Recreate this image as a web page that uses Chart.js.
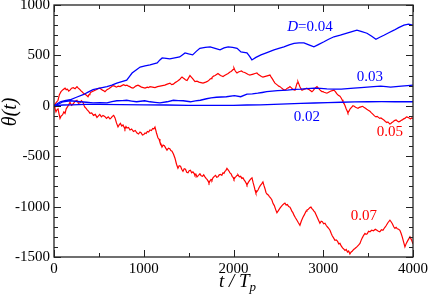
<!DOCTYPE html>
<html>
<head>
<meta charset="utf-8">
<script src="https://cdn.jsdelivr.net/npm/chart.js@4"></script>
<style>
  html, body { margin: 0; padding: 0; background: #fff; }
  #wrap { width: 429px; height: 300px; }
</style>
</head>
<body>
<div id="wrap"><canvas id="c" width="429" height="300"></canvas></div>
<script>
// theta(t) traces, [t, theta]
const D002 = [[0,0],[100,8],[200,10],[350,14],[500,15],[750,12],[1000,10],[1250,8],[1500,5],[1750,5],[2000,5],[2150,8],[2300,10],[2450,15],[2600,20],[2750,24],[2900,28],[3050,32],[3200,35],[3350,38],[3500,40],[3650,41],[3800,40],[3900,40],[4000,40]];

const D003 = [[0,0],[33,10],[100,40],[180,50],[235,45],[290,40],[360,35],[435,30],[510,32],[590,30],[645,42],[700,50],[760,52],[810,55],[865,47],[920,40],[1010,50],[1070,40],[1125,35],[1180,30],[1260,40],[1330,55],[1385,52],[1440,50],[1520,40],[1575,48],[1630,55],[1700,70],[1750,78],[1810,85],[1920,90],[2010,100],[2080,90],[2150,115],[2210,118],[2270,125],[2320,132],[2370,140],[2430,145],[2490,150],[2600,155],[2680,162],[2750,165],[2820,170],[2900,175],[2970,172],[3040,168],[3120,166],[3200,165],[3270,170],[3340,175],[3420,180],[3490,185],[3560,190],[3640,195],[3700,190],[3750,185],[3810,190],[3870,195],[3940,200],[4000,205]];

const D004 = [[0,0],[35,20],[70,40],[120,50],[180,60],[250,85],[325,110],[380,135],[435,160],[510,175],[590,190],[645,205],[700,225],[755,240],[810,255],[840,290],[870,325],[915,355],[960,385],[1015,395],[1070,405],[1110,415],[1150,425],[1180,455],[1205,475],[1250,470],[1290,465],[1345,475],[1400,485],[1430,505],[1460,525],[1500,515],[1545,505],[1585,540],[1625,570],[1685,580],[1740,585],[1795,570],[1850,555],[1895,575],[1940,585],[1990,580],[2040,570],[2083,535],[2115,530],[2150,525],[2180,490],[2205,455],[2250,480],[2306,505],[2380,530],[2451,555],[2505,570],[2562,585],[2620,605],[2674,620],[2730,625],[2785,625],[2840,605],[2896,585],[2950,610],[3008,635],[3060,660],[3119,685],[3190,700],[3264,720],[3320,735],[3375,750],[3430,735],[3487,720],[3540,690],[3587,660],[3630,680],[3676,700],[3730,725],[3788,750],[3840,775],[3899,800],[3950,810],[4000,800]];

const D005 = [[0,0],[22,30],[45,55],[60,110],[78,140],[100,160],[123,175],[136,160],[150,165],[164,145],[178,155],[196,175],[215,180],[235,170],[256,190],[270,175],[285,165],[298,150],[312,140],[328,125],[345,115],[362,105],[379,90],[390,110],[400,120],[411,135],[423,140],[446,150],[470,160],[490,170],[512,175],[526,165],[540,155],[554,150],[568,140],[590,160],[610,170],[634,185],[657,200],[676,195],[695,185],[715,195],[735,190],[755,200],[775,210],[795,200],[813,205],[830,195],[845,190],[862,180],[880,175],[895,185],[910,195],[923,200],[936,205],[956,195],[975,185],[995,180],[1014,175],[1027,180],[1040,185],[1055,180],[1069,190],[1097,185],[1125,180],[1153,190],[1181,195],[1208,200],[1235,205],[1262,215],[1292,225],[1311,210],[1330,215],[1350,230],[1370,240],[1385,250],[1400,260],[1413,275],[1426,285],[1440,275],[1455,265],[1468,255],[1482,250],[1498,275],[1515,300],[1530,285],[1545,270],[1558,255],[1571,240],[1593,245],[1615,235],[1637,230],[1660,225],[1675,230],[1690,235],[1703,240],[1716,245],[1728,255],[1740,265],[1750,270],[1760,280],[1778,295],[1795,300],[1811,310],[1827,320],[1841,310],[1855,300],[1869,295],[1883,290],[1900,300],[1920,310],[1940,320],[1961,335],[1973,340],[1985,350],[1995,360],[2005,375],[2012,360],[2020,345],[2030,335],[2039,325],[2055,335],[2070,340],[2088,345],[2105,335],[2125,330],[2145,320],[2164,310],[2183,305],[2200,310],[2220,315],[2240,320],[2261,325],[2278,310],[2295,300],[2311,290],[2328,285],[2346,290],[2365,295],[2385,300],[2406,305],[2420,285],[2435,265],[2448,245],[2462,225],[2476,215],[2490,205],[2504,195],[2518,190],[2531,180],[2545,170],[2559,160],[2573,155],[2587,165],[2600,175],[2615,180],[2629,190],[2642,180],[2655,170],[2670,160],[2685,155],[2692,175],[2700,200],[2709,225],[2718,240],[2729,215],[2740,190],[2751,170],[2763,155],[2776,160],[2790,165],[2805,170],[2818,175],[2832,165],[2845,160],[2860,150],[2874,140],[2887,150],[2900,165],[2915,180],[2930,190],[2945,175],[2960,160],[2973,150],[2986,140],[2998,140],[3010,135],[3025,130],[3041,125],[3060,135],[3080,145],[3100,150],[3119,155],[3135,140],[3150,120],[3168,105],[3186,95],[3198,80],[3210,60],[3220,40],[3231,25],[3243,0],[3255,-30],[3265,-50],[3275,-70],[3288,-50],[3300,-30],[3315,-15],[3331,0],[3345,-5],[3360,-15],[3373,-20],[3387,-25],[3403,-15],[3420,-10],[3437,-5],[3453,-15],[3470,-25],[3485,-35],[3502,-45],[3520,-55],[3537,-70],[3555,-85],[3571,-100],[3587,-110],[3601,-105],[3615,-115],[3629,-125],[3643,-120],[3659,-130],[3675,-140],[3692,-155],[3709,-165],[3720,-160],[3730,-170],[3742,-180],[3754,-175],[3765,-165],[3775,-160],[3787,-150],[3799,-145],[3812,-140],[3825,-150],[3840,-160],[3854,-155],[3867,-145],[3880,-140],[3895,-130],[3910,-125],[3927,-110],[3944,-115],[3957,-120],[3970,-130],[3985,-120],[4000,-125]];

const D007 = [[0,0],[11,-25],[22,-60],[33,-40],[45,-30],[56,-80],[67,-125],[80,-100],[95,-90],[110,-60],[123,-75],[136,-30],[150,-10],[164,10],[178,35],[196,5],[215,20],[235,45],[256,55],[272,25],[290,30],[305,50],[323,35],[334,5],[345,-15],[358,-25],[370,-40],[386,-55],[401,-75],[420,-70],[440,-95],[460,-85],[479,-115],[495,-100],[510,-85],[528,-110],[546,-95],[565,-105],[585,-125],[604,-110],[624,-130],[637,-120],[650,-105],[665,-95],[680,-120],[696,-170],[713,-210],[726,-190],[740,-175],[755,-200],[769,-190],[780,-210],[790,-230],[802,-205],[813,-220],[830,-215],[847,-240],[865,-230],[885,-255],[905,-245],[925,-270],[942,-280],[958,-260],[972,-270],[985,-290],[1000,-285],[1014,-270],[1027,-275],[1040,-255],[1055,-260],[1069,-240],[1085,-245],[1100,-225],[1112,-230],[1125,-210],[1142,-270],[1159,-320],[1170,-330],[1180,-360],[1192,-380],[1203,-410],[1216,-390],[1230,-395],[1245,-420],[1259,-440],[1275,-420],[1290,-425],[1302,-445],[1315,-450],[1332,-480],[1348,-520],[1365,-580],[1381,-620],[1395,-595],[1410,-600],[1423,-630],[1437,-650],[1451,-625],[1465,-630],[1479,-660],[1493,-665],[1506,-645],[1520,-640],[1534,-665],[1548,-655],[1560,-670],[1570,-690],[1582,-680],[1593,-705],[1610,-690],[1626,-675],[1640,-695],[1655,-700],[1668,-685],[1682,-705],[1694,-720],[1705,-730],[1716,-745],[1727,-765],[1738,-745],[1750,-730],[1760,-740],[1771,-715],[1786,-700],[1800,-690],[1813,-710],[1827,-705],[1841,-685],[1855,-680],[1870,-690],[1883,-665],[1894,-670],[1905,-650],[1916,-640],[1927,-620],[1944,-640],[1961,-665],[1973,-675],[1985,-700],[1995,-710],[2005,-730],[2018,-710],[2030,-700],[2040,-690],[2050,-685],[2065,-705],[2080,-700],[2093,-720],[2105,-715],[2118,-735],[2130,-750],[2140,-765],[2150,-785],[2165,-760],[2180,-740],[2193,-725],[2206,-715],[2218,-760],[2230,-800],[2240,-835],[2250,-865],[2262,-850],[2273,-835],[2286,-810],[2300,-790],[2314,-775],[2328,-755],[2339,-790],[2350,-820],[2362,-860],[2373,-875],[2387,-885],[2400,-900],[2414,-915],[2428,-935],[2441,-970],[2455,-990],[2470,-1030],[2484,-1060],[2500,-1040],[2518,-1015],[2531,-1000],[2545,-985],[2559,-975],[2573,-965],[2586,-985],[2600,-980],[2615,-1000],[2629,-1005],[2640,-1025],[2650,-1045],[2662,-1060],[2674,-1085],[2690,-1110],[2707,-1135],[2723,-1160],[2740,-1185],[2757,-1140],[2774,-1105],[2787,-1085],[2800,-1060],[2809,-1045],[2818,-1035],[2830,-1030],[2840,-1020],[2852,-1010],[2863,-1005],[2874,-1020],[2885,-1030],[2896,-1045],[2907,-1055],[2920,-1080],[2935,-1110],[2950,-1140],[2963,-1165],[2977,-1145],[2990,-1150],[3005,-1170],[3019,-1165],[3032,-1185],[3045,-1200],[3060,-1215],[3075,-1235],[3088,-1265],[3100,-1290],[3115,-1310],[3130,-1335],[3145,-1330],[3160,-1345],[3173,-1370],[3186,-1365],[3200,-1390],[3215,-1410],[3228,-1420],[3242,-1435],[3256,-1425],[3270,-1450],[3283,-1440],[3297,-1470],[3311,-1450],[3325,-1440],[3339,-1425],[3353,-1415],[3366,-1405],[3380,-1395],[3395,-1380],[3409,-1365],[3422,-1335],[3435,-1310],[3450,-1285],[3465,-1265],[3477,-1275],[3490,-1270],[3505,-1245],[3520,-1250],[3540,-1235],[3560,-1240],[3580,-1225],[3598,-1235],[3614,-1245],[3630,-1250],[3648,-1230],[3665,-1235],[3683,-1210],[3700,-1190],[3720,-1160],[3743,-1135],[3756,-1150],[3770,-1170],[3785,-1200],[3799,-1215],[3812,-1205],[3825,-1220],[3840,-1225],[3854,-1235],[3867,-1265],[3880,-1300],[3895,-1350],[3910,-1400],[3925,-1365],[3940,-1340],[3953,-1320],[3966,-1300],[3983,-1330],[4000,-1370]];

const X_TICKS = [0, 1000, 2000, 3000, 4000];
const X_MINOR = [500, 1500, 2500, 3500];
const Y_TICKS = [-1500, -1000, -500, 0, 500, 1000];
const Y_MINOR = [-1400, -1300, -1200, -1100, -900, -800, -700, -600, -400, -300, -200, -100,
                 100, 200, 300, 400, 600, 700, 800, 900];

const BLUE = '#0000ff';
const RED = '#ff0000';
const SERIF = '"Liberation Serif", "Times New Roman", serif';

// curve labels, anchored in data space
const CURVE_LABELS = [
  { pre: 'D', text: '=0.04', t: 2852, th: 782, color: BLUE },
  { text: '0.03', t: 3520, th: 286, color: BLUE },
  { text: '0.02', t: 2818, th: -111, color: BLUE },
  { text: '0.05', t: 3743, th: -260, color: RED },
  { text: '0.07', t: 3453, th: -1093, color: RED },
];

const line = (pts, color, w) => ({
  data: pts.map(p => ({ x: p[0], y: p[1] })),
  borderColor: color,
  borderWidth: w,
  pointRadius: 0,
  tension: 0,
  fill: false,
});

const frame = {
  id: 'frame',
  afterDraw(chart) {
    const { ctx, chartArea: a, scales: { x, y } } = chart;
    ctx.save();
    ctx.strokeStyle = '#222';
    ctx.lineWidth = 1.3;
    ctx.strokeRect(a.left, a.top, a.right - a.left, a.bottom - a.top);

    ctx.lineWidth = 1;
    ctx.beginPath();
    const tx = (v, len) => {
      const px = Math.round(x.getPixelForValue(v)) + 0.5;
      ctx.moveTo(px, a.bottom); ctx.lineTo(px, a.bottom - len);
      ctx.moveTo(px, a.top); ctx.lineTo(px, a.top + len);
    };
    const ty = (v, len) => {
      const py = Math.round(y.getPixelForValue(v)) + 0.5;
      ctx.moveTo(a.left, py); ctx.lineTo(a.left + len, py);
      ctx.moveTo(a.right, py); ctx.lineTo(a.right - len, py);
    };
    X_TICKS.forEach(v => tx(v, 7));
    X_MINOR.forEach(v => tx(v, 4));
    Y_TICKS.forEach(v => ty(v, 7));
    Y_MINOR.forEach(v => ty(v, 4));
    ctx.stroke();

    // curve labels
    ctx.textBaseline = 'middle';
    ctx.textAlign = 'left';
    CURVE_LABELS.forEach(l => {
      const cx = x.getPixelForValue(l.t), cy = y.getPixelForValue(l.th);
      ctx.fillStyle = l.color;
      ctx.font = '15px ' + SERIF;
      const w = ctx.measureText(l.text).width;
      let wp = 0;
      if (l.pre) {
        ctx.font = 'italic 15px ' + SERIF;
        wp = ctx.measureText(l.pre).width;
      }
      const sx = cx - (w + wp) / 2;
      if (l.pre) ctx.fillText(l.pre, sx, cy);
      ctx.font = '15px ' + SERIF;
      ctx.fillText(l.text, sx + wp, cy);
    });

    // axis titles
    ctx.fillStyle = '#000';
    ctx.textBaseline = 'alphabetic';
    ctx.font = 'italic 19px ' + SERIF;
    const main = 't / T';
    const wm = ctx.measureText(main).width;
    ctx.font = 'italic 13px ' + SERIF;
    const ws = ctx.measureText('p').width;
    const sx = (a.left + a.right) / 2 + 4 - (wm + ws) / 2;
    ctx.font = 'italic 19px ' + SERIF;
    ctx.fillText(main, sx, 287);
    ctx.font = 'italic 13px ' + SERIF;
    ctx.fillText('p', sx + wm, 291);

    ctx.translate(16, 112);
    ctx.rotate(-Math.PI / 2);
    ctx.textAlign = 'center';
    ctx.font = 'italic 20px ' + SERIF;
    ctx.fillText('\u03b8(t)', 0, 0);
    ctx.restore();
  },
};

new Chart(document.getElementById('c'), {
  type: 'line',
  data: {
    datasets: [
      line(D002, BLUE, 1.3),
      line(D003, BLUE, 1.3),
      line(D004, BLUE, 1.3),
      line(D005, RED, 1.2),
      line(D007, RED, 1.2),
    ],
  },
  options: {
    responsive: false,
    animation: false,
    devicePixelRatio: 1,
    layout: { padding: { top: 5, right: 16, left: 0, bottom: 0 } },
    plugins: { legend: { display: false }, tooltip: { enabled: false } },
    scales: {
      x: {
        type: 'linear',
        min: 0,
        max: 4000,
        afterBuildTicks: s => { s.ticks = X_TICKS.map(v => ({ value: v })); },
        afterFit: s => { s.height = 43; s.paddingLeft = 0; s.paddingRight = 0; },
        ticks: { color: '#000', font: { family: SERIF, size: 15 }, padding: 3, maxRotation: 0, autoSkip: false, callback: v => String(v) },
        grid: { display: false, drawTicks: false },
        border: { display: false },
      },
      y: {
        min: -1500,
        max: 1000,
        afterBuildTicks: s => { s.ticks = Y_TICKS.map(v => ({ value: v })); },
        afterFit: s => { s.width = 54; s.paddingTop = 0; s.paddingBottom = 0; },
        ticks: { color: '#000', font: { family: SERIF, size: 15 }, padding: 4, autoSkip: false, callback: v => String(v) },
        grid: { display: false, drawTicks: false },
        border: { display: false },
      },
    },
  },
  plugins: [frame],
});
</script>
</body>
</html>
